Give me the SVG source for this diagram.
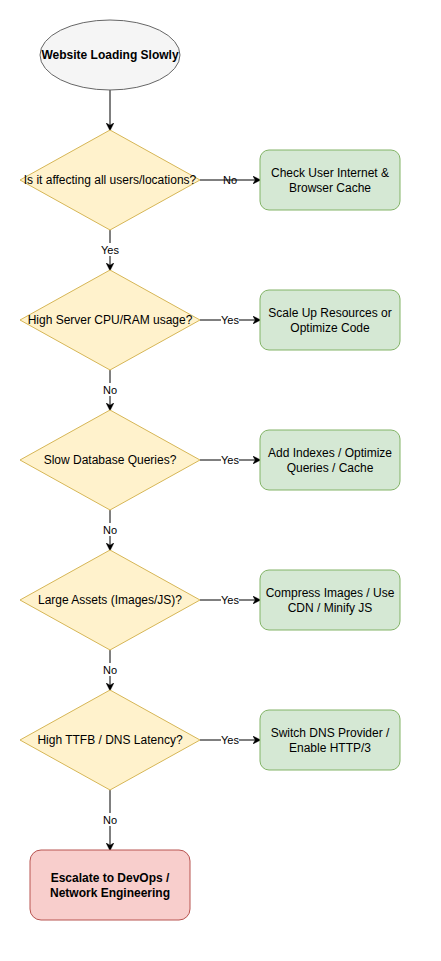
<svg xmlns="http://www.w3.org/2000/svg" width="441" height="961" viewBox="0 0 441 961">
<style>
text{font-family:"Liberation Sans",Arial,Helvetica,sans-serif;font-size:12px;fill:#000;text-anchor:middle}
.b{font-weight:bold}
.lbl{font-size:11px}
.dia{fill:#fff2cc;stroke:#d6b656;stroke-width:1}
.act{fill:#d5e8d4;stroke:#82b366;stroke-width:1}
.esc{fill:#f8cecc;stroke:#b85450;stroke-width:1}
.edge{stroke:#000;stroke-width:1;fill:none;marker-end:url(#arr)}
.bg{fill:#fff}
</style>
<defs>
<marker id="arr" viewBox="0 0 10 10" refX="9" refY="5" markerWidth="8" markerHeight="8" markerUnits="userSpaceOnUse" orient="auto">
<path d="M0,0 L10,5 L0,10 L3,5 Z" fill="#000" stroke="#000" stroke-width="0.5"/>
</marker>
</defs>
<rect width="441" height="961" fill="#fff"/>
<g id="connectors">
<path class="edge" d="M110,90 V130"/>
<path class="edge" d="M200,180 H260"/>
<path class="edge" d="M110,230 V270"/>
<path class="edge" d="M200,320 H260"/>
<path class="edge" d="M110,370 V410"/>
<path class="edge" d="M200,460 H260"/>
<path class="edge" d="M110,510 V550"/>
<path class="edge" d="M200,600 H260"/>
<path class="edge" d="M110,650 V690"/>
<path class="edge" d="M200,740 H260"/>
<path class="edge" d="M110,790 V850"/>
<text class="lbl" x="230" y="184">No</text>
<rect class="bg" x="101" y="243" width="18" height="13"/><text class="lbl" x="110" y="254">Yes</text>
<rect class="bg" x="221" y="314" width="18" height="12"/><text class="lbl" x="230" y="324">Yes</text>
<rect class="bg" x="102" y="383" width="16" height="13"/><text class="lbl" x="110" y="394">No</text>
<rect class="bg" x="221" y="454" width="18" height="12"/><text class="lbl" x="230" y="464">Yes</text>
<rect class="bg" x="102" y="523" width="16" height="13"/><text class="lbl" x="110" y="534">No</text>
<rect class="bg" x="221" y="594" width="18" height="12"/><text class="lbl" x="230" y="604">Yes</text>
<rect class="bg" x="102" y="663" width="16" height="13"/><text class="lbl" x="110" y="674">No</text>
<rect class="bg" x="221" y="734" width="18" height="12"/><text class="lbl" x="230" y="744">Yes</text>
<rect class="bg" x="102" y="813" width="16" height="13"/><text class="lbl" x="110" y="824">No</text>
</g>
<g id="start">
<ellipse cx="110" cy="55" rx="70" ry="35" fill="#f5f5f5" stroke="#666666"/>
<text class="b" x="110" y="59">Website Loading Slowly</text>
</g>
<g id="q1">
<polygon class="dia" points="110,130 200,180 110,230 20,180"/>
<text x="110" y="184">Is it affecting all users/locations?</text>
</g>
<g id="a1">
<rect class="act" x="260" y="150" width="140" height="60" rx="9"/>
<text x="330" y="177">Check User Internet &amp;</text>
<text x="330" y="192">Browser Cache</text>
</g>
<g id="q2">
<polygon class="dia" points="110,270 200,320 110,370 20,320"/>
<text x="110" y="324">High Server CPU/RAM usage?</text>
</g>
<g id="a2">
<rect class="act" x="260" y="290" width="140" height="60" rx="9"/>
<text x="330" y="317">Scale Up Resources or</text>
<text x="330" y="332">Optimize Code</text>
</g>
<g id="q3">
<polygon class="dia" points="110,410 200,460 110,510 20,460"/>
<text x="110" y="464">Slow Database Queries?</text>
</g>
<g id="a3">
<rect class="act" x="260" y="430" width="140" height="60" rx="9"/>
<text x="330" y="457">Add Indexes / Optimize</text>
<text x="330" y="472">Queries / Cache</text>
</g>
<g id="q4">
<polygon class="dia" points="110,550 200,600 110,650 20,600"/>
<text x="110" y="604">Large Assets (Images/JS)?</text>
</g>
<g id="a4">
<rect class="act" x="260" y="570" width="140" height="60" rx="9"/>
<text x="330" y="597">Compress Images / Use</text>
<text x="330" y="612">CDN / Minify JS</text>
</g>
<g id="q5">
<polygon class="dia" points="110,690 200,740 110,790 20,740"/>
<text x="110" y="744">High TTFB / DNS Latency?</text>
</g>
<g id="a5">
<rect class="act" x="260" y="710" width="140" height="60" rx="9"/>
<text x="330" y="737">Switch DNS Provider /</text>
<text x="330" y="752">Enable HTTP/3</text>
</g>
<g id="escalate">
<rect class="esc" x="30" y="850" width="160" height="70" rx="11"/>
<text class="b" x="110" y="882">Escalate to DevOps /</text>
<text class="b" x="110" y="897">Network Engineering</text>
</g>
</svg>
